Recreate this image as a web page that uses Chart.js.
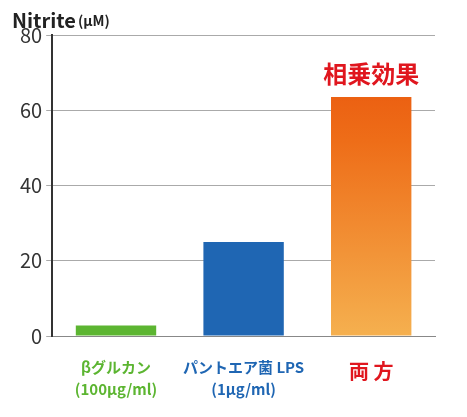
<!DOCTYPE html>
<html><head><meta charset="utf-8">
<script src="https://cdn.jsdelivr.net/npm/chart.js@4"></script>
<style>html,body{margin:0;padding:0;background:#fff}#wrap{width:467px;height:417px}</style>
</head><body><div id="wrap"><canvas id="c"></canvas></div>
<script>
// values
const categories = [['βグルカン', '(100μg/ml)'], ['パントエア菌 LPS', '(1μg/ml)'], ['両 方']];
const nitrite = [2.8, 25, 63.5];
const labelColors = ['#5cb531', '#1f66b3', '#e0161e'];
const yTicks = [0, 20, 40, 60, 80];

const fontFamily = '"Noto Sans CJK JP", "Noto Sans", sans-serif';

// orange bar fades from dark top to lighter bottom
function barColor(context) {
    const i = context.dataIndex;
    if (i === 0) return '#5cb531';
    if (i === 1) return '#1f66b3';
    const area = context.chart.chartArea;
    if (!area) return '#ee7a20';
    const g = context.chart.ctx.createLinearGradient(0, area.top, 0, area.bottom);
    g.addColorStop(0, '#e84f0a');
    g.addColorStop(0.35, '#ee6d18');
    g.addColorStop(1, '#f5b04f');
    return g;
}

const extraText = {
    id: 'extraText',
    afterDraw(chart) {
        const ctx = chart.ctx;
        ctx.save();
        ctx.fillStyle = '#222';
        ctx.textBaseline = 'alphabetic';
        ctx.font = 'bold 20px ' + fontFamily;
        ctx.fillText('Nitrite', 12, 28);
        ctx.font = 'bold 14px ' + fontFamily;
        ctx.fillText('(μM)', 78, 26);
        const meta = chart.getDatasetMeta(0).data[2];
        ctx.fillStyle = '#e0161e';
        ctx.font = 'bold 24px ' + fontFamily;
        ctx.textAlign = 'center';
        ctx.fillText('相乗効果', meta.x, meta.y - 14);
        ctx.restore();
    }
};

new Chart(document.getElementById('c'), {
    type: 'bar',
    data: {
        labels: categories,
        datasets: [{ data: nitrite, backgroundColor: barColor, barPercentage: 0.63, categoryPercentage: 1 }]
    },
    options: {
        responsive: true,
        maintainAspectRatio: false,
        animation: false,
        layout: { padding: { top: 35, right: 32, left: 16, bottom: 4 } },
        plugins: { legend: { display: false }, tooltip: { enabled: false } },
        scales: {
            x: {
                grid: { display: false },
                border: { color: '#888' },
                ticks: {
                    maxRotation: 0, minRotation: 0, autoSkip: false,
                    color: (c) => labelColors[c.index],
                    font: (c) => ({ family: fontFamily, weight: 'bold', size: c.index === 2 ? 20 : 15, lineHeight: 1.5 }),
                    padding: 12
                }
            },
            y: {
                min: 0, max: 80,
                afterBuildTicks: (axis) => { axis.ticks = yTicks.map(v => ({ value: v })); },
                grid: { color: '#aaa', drawTicks: true, tickLength: 6 },
                border: { color: '#333', width: 2 },
                ticks: { color: '#333', font: { family: fontFamily, size: 20 }, padding: 4 }
            }
        }
    },
    plugins: [extraText]
});
</script></body></html>
